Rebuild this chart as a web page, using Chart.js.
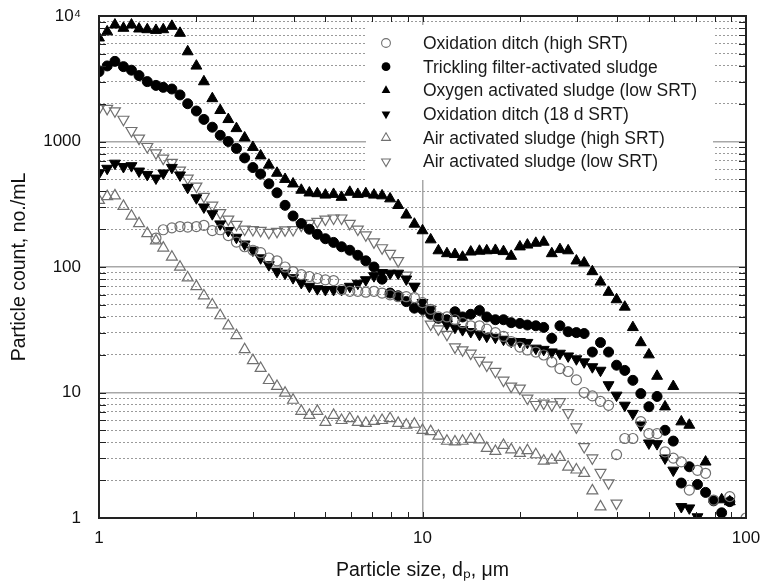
<!DOCTYPE html>
<html>
<head>
<meta charset="utf-8">
<script src="https://cdn.jsdelivr.net/npm/chart.js@4.4.0/dist/chart.umd.min.js"></script>
<style>
  body { margin: 0; background: #fff; }
</style>
</head>
<body>
<canvas id="mycanvas" width="762" height="587"></canvas>
<script>
// particle size bins (um)
var sizes = [1.00, 1.06, 1.12, 1.19, 1.26, 1.33, 1.41, 1.50, 1.58, 1.68,
  1.78, 1.88, 2.00, 2.11, 2.24, 2.37, 2.51, 2.66, 2.82, 2.99,
  3.16, 3.35, 3.55, 3.76, 3.98, 4.22, 4.47, 4.73, 5.01, 5.31,
  5.62, 5.96, 6.31, 6.68, 7.08, 7.50, 7.94, 8.41, 8.91, 9.44,
  10.0, 10.6, 11.2, 11.9, 12.6, 13.3, 14.1, 15.0, 15.8, 16.8,
  17.8, 18.8, 20.0, 21.1, 22.4, 23.7, 25.1, 26.6, 28.2, 29.9,
  31.6, 33.5, 35.5, 37.6, 39.8, 42.2, 44.7, 47.3, 50.1, 53.1,
  56.2, 59.6, 63.1, 66.8, 70.8, 75.0, 79.4, 84.1, 89.1, 94.4,
  100];

var seriesNames = [
  'Oxidation ditch (high SRT)',
  'Trickling filter-activated sludge',
  'Oxygen activated sludge (low SRT)',
  'Oxidation ditch (18 d SRT)',
  'Air activated sludge (high SRT)',
  'Air activated sludge (low SRT)'
];

// particle count, no./mL (null = no point)
var oxDitchHigh = [null, null, null, null, null, null, null, 170, 198, 205,
  210, 208, 210, 215, 195, 198, 178, 158, 145, 136,
  130, 118, 112, 100, 92, 87, 84, 81, 79, 78,
  66, 64, 64, 63, 64, 62, 60, 58, 58, 57,
  52, 46, 40, 40, 38, 36, 34, 34, 32, 30,
  28, 25.5, 23, 21.8, 21, 19.9, 17.5, 15.5, 14.7, 12.6,
  10, 9.4, 8.5, 7.9, 3.2, 4.3, 4.3, 5.85, 4.7, 4.7,
  3.37, 3.0, 2.8, 1.67, 2.4, 2.27, 1.39, null, 1.48, null,
  1.0];

var tricklingAS = [3600, 4000, 4350, 3950, 3700, 3350, 3000, 2800, 2700, 2620,
  2350, 2000, 1750, 1500, 1300, 1120, 1000, 880, 740, 620,
  550, 460, 390, 310, 255, 222, 200, 182, 168, 157,
  145, 136, 124, 112, 100, 80, 62, 59, 53, 47,
  46, 42, 39, 38, 44, 40, 42, 45, 40, 38,
  38, 36, 35.5, 34.5, 34, 33, 27, 34, 30.5, 30,
  29.5, 21, 25, 21, 16.5, 15, 12.5, 9.8, 7.7, 9.3,
  5.0, 4.1, 1.9, 2.56, 1.85, 1.6, 1.37, 1.1, 1.35, null,
  null];

var oxygenLow = [6700, 7500, 8500, 8000, 8500, 7900, 7800, 7700, 7800, 8300,
  7300, 5200, 4000, 3000, 2200, 1770, 1500, 1270, 1070, 900,
  770, 650, 560, 500, 460, 410, 390, 385, 375, 380,
  360, 395, 380, 385, 375, 370, 350, 310, 260, 220,
  195, 165, 135, 128, 126, 120, 132, 134, 135, 136,
  133, 122, 145, 150, 155, 158, 128, 138, 135, 112,
  108, 92, 76, 63, 55, 48, 33, 25, 20, 13.5,
  7.7, 11.2, 5.85, 5.5, null, 2.8, null, 1.4, 1.35, null,
  null];

var oxDitch18 = [560, 610, 670, 630, 640, 580, 545, 510, 560, 620,
  540, 430, 355, 300, 265, 220, 195, 172, 152, 136,
  118, 104, 92, 89, 82, 75, 70, 67, 66, 66,
  66, 70, 74, 79, 85, 90, 89, 89, 80, 70,
  52, 46, 40, 35, 33, 31.6, 30.5, 29, 28, 27.5,
  26.5, 25.5, 25.4, 25, 22.5, 22, 21, 20.5, 19.5, 18.5,
  17.5, 16, 15, 11.5, 9.5, 7.9, 6.8, 5.5, 3.95, 3.9,
  3.0, 2.4, 1.23, 1.2, 1.02, null, null, null, null, null,
  null];

var airHigh = [340, 365, 370, 305, 255, 222, 185, 162, 142, 120,
  100, 82, 70, 59, 50, 41, 34, 28.5, 22, 18,
  15.6, 12.5, 11.2, 9.9, 8.7, 7.1, 6.6, 7.1, 5.8, 6.6,
  6.0, 6.2, 5.8, 5.7, 5.9, 6.0, 6.2, 5.7, 5.5, 5.6,
  5.0, 4.9, 4.5, 4.1, 4.05, 4.1, 4.25, 4.2, 3.6, 3.4,
  3.8, 3.5, 3.28, 3.45, 3.2, 2.85, 2.9, 3.05, 2.55, 2.42,
  2.27, 1.65, 1.23, null, null, null, null, null, null, null,
  null, null, null, null, null, null, null, null, null, null,
  null];

var airLow = [1830, 1830, 1750, 1500, 1220, 1060, 910, 810, 735, 680,
  590, 510, 440, 365, 310, 270, 240, 218, 200, 198,
  195, 188, 192, 197, 198, 215, 222, 230, 240, 245,
  245, 222, 200, 180, 158, 142, 128, 112, 86, 70,
  45, 35, 32, 29, 23, 21.8, 20.5, 18, 16.5, 14.7,
  12.5, 11.2, 10.8, 9.0, 8.0, 8.2, 7.95, 8.45, 6.9, 5.3,
  3.7, 3.0, 2.3, 1.9, 1.31, null, null, null, null, null,
  null, null, null, null, null, null, null, null, null, null,
  null];

var xTicks = [1, 2, 3, 4, 5, 6, 7, 8, 9, 10, 20, 30, 40, 50, 60, 70, 80, 90, 100];
var xTickLabels = {1: '1', 10: '10', 100: '100'};
var yTicks = [1, 2, 3, 4, 5, 6, 7, 8, 9, 10, 20, 30, 40, 50, 60, 70, 80, 90,
  100, 200, 300, 400, 500, 600, 700, 800, 900,
  1000, 2000, 3000, 4000, 5000, 6000, 7000, 8000, 9000, 10000];
var yTickLabels = {1: '1', 10: '10', 100: '100', 1000: '1000', 10000: '10\u2074'};

var FONT = "'Liberation Sans', Arial, sans-serif";
var GREY = '#707070';

// marker look for each series: [pointStyle, rotation, filled]
var markers = [
  ['circle', 0, false],
  ['circle', 0, true],
  ['triangle', 0, true],
  ['triangle', 180, true],
  ['triangle', 0, false],
  ['triangle', 180, false]
];
var allSeries = [oxDitchHigh, tricklingAS, oxygenLow, oxDitch18, airHigh, airLow];

function points(vals) {
  var out = [];
  for (var i = 0; i < sizes.length; i++) {
    if (vals[i] != null) out.push({x: sizes[i], y: vals[i]});
  }
  return out;
}

var datasets = [];
for (var s = 0; s < allSeries.length; s++) {
  var m = markers[s];
  datasets.push({
    label: seriesNames[s],
    data: points(allSeries[s]),
    showLine: false,
    pointStyle: m[0],
    rotation: m[1],
    pointRadius: m[0] === 'circle' ? 5 : 6.3,
    pointHoverRadius: m[0] === 'circle' ? 5 : 6.3,
    backgroundColor: m[2] ? '#000' : 'rgba(255,255,255,0)',
    borderColor: m[2] ? '#000' : GREY,
    borderWidth: m[2] ? 1 : 1.2
  });
}

function drawMarker(ctx, m, x, y, r) {
  ctx.save();
  ctx.beginPath();
  if (m[0] === 'circle') {
    ctx.arc(x, y, r, 0, Math.PI * 2);
  } else {
    var rot = m[1] * Math.PI / 180;
    for (var k = 0; k < 3; k++) {
      var a = rot + k * 2 * Math.PI / 3;
      var px = x + Math.sin(a) * r * 1.15, py = y - Math.cos(a) * r * 1.15;
      if (k === 0) ctx.moveTo(px, py); else ctx.lineTo(px, py);
    }
    ctx.closePath();
  }
  if (m[2]) { ctx.fillStyle = '#000'; ctx.fill(); }
  else { ctx.strokeStyle = GREY; ctx.lineWidth = 1.1; ctx.stroke(); }
  ctx.restore();
}

var framePlugin = {
  id: 'frame',
  afterDatasetsDraw: function(chart) {
    var ctx = chart.ctx;
    // legend box
    ctx.save();
    ctx.fillStyle = '#fff';
    ctx.fillRect(366, 25, 347, 155);
    ctx.font = '17.5px ' + FONT;
    ctx.fillStyle = '#1a1a1a';
    ctx.textBaseline = 'middle';
    for (var i = 0; i < seriesNames.length; i++) {
      var y = 43 + i * 23.7;
      drawMarker(ctx, markers[i], 386, y, 4.4);
      ctx.fillText(seriesNames[i], 423, y + 1);
    }
    ctx.restore();
  },
  afterDraw: function(chart) {
    var ctx = chart.ctx, a = chart.chartArea;
    var xs = chart.scales.x, ys = chart.scales.y;
    ctx.save();
    ctx.strokeStyle = '#222';
    ctx.lineWidth = 1;
    ctx.beginPath();
    xTicks.forEach(function(v) {
      var px = Math.round(xs.getPixelForValue(v)) + 0.5;
      ctx.moveTo(px, a.bottom); ctx.lineTo(px, a.bottom - 6);
      ctx.moveTo(px, a.top); ctx.lineTo(px, a.top + 6);
    });
    yTicks.forEach(function(v) {
      var py = Math.round(ys.getPixelForValue(v)) + 0.5;
      ctx.moveTo(a.left, py); ctx.lineTo(a.left + 7, py);
      ctx.moveTo(a.right, py); ctx.lineTo(a.right - 7, py);
    });
    ctx.stroke();
    ctx.lineWidth = 2;
    ctx.strokeRect(a.left, a.top, a.right - a.left, a.bottom - a.top);
    ctx.restore();
  }
};

function isMajor(v) {
  return yTickLabels[v] !== undefined;
}

var ctx = document.getElementById('mycanvas');
var chart = new Chart(ctx, {
  type: 'scatter',
  data: { datasets: datasets },
  options: {
    responsive: false,
    animation: false,
    devicePixelRatio: 1,
    layout: { padding: { left: 0, right: 16, top: 16, bottom: 0 } },
    plugins: {
      legend: { display: false },
      tooltip: { enabled: false }
    },
    scales: {
      x: {
        type: 'logarithmic',
        min: 1,
        max: 100,
        afterBuildTicks: function(scale) {
          scale.ticks = xTicks.map(function(v) { return {value: v}; });
        },
        afterFit: function(scale) {
          scale.height = 69;
          scale.paddingLeft = 0;
          scale.paddingRight = 0;
        },
        border: { display: false },
        grid: {
          drawTicks: false,
          lineWidth: 1.5,
          color: function(c) {
            return c.tick && c.tick.value === 10 ? '#a8a8a8' : 'rgba(0,0,0,0)';
          }
        },
        ticks: {
          autoSkip: false,
          maxRotation: 0,
          padding: 10,
          color: '#111',
          font: { family: FONT, size: 17 },
          callback: function(v) { return xTickLabels[v] || ''; }
        },
        title: {
          display: true,
          text: 'Particle size, d\u209A, \u03BCm',
          color: '#111',
          font: { family: FONT, size: 19.5 },
          padding: { top: 0, bottom: 5 }
        }
      },
      y: {
        type: 'logarithmic',
        min: 1,
        max: 10000,
        afterBuildTicks: function(scale) {
          scale.ticks = yTicks.map(function(v) { return {value: v}; });
        },
        afterFit: function(scale) {
          scale.width = 99;
          scale.paddingTop = 0;
          scale.paddingBottom = 0;
        },
        border: {
          display: false,
          dash: function(c) {
            return c.tick && !isMajor(c.tick.value) ? [2, 2] : [];
          }
        },
        grid: {
          drawTicks: false,
          lineWidth: function(c) { return c.tick && isMajor(c.tick.value) ? 1.5 : 1; },
          color: function(c) { return c.tick && isMajor(c.tick.value) ? '#a8a8a8' : '#9a9a9a'; }
        },
        ticks: {
          autoSkip: false,
          padding: 18,
          color: '#111',
          font: { family: FONT, size: 17 },
          callback: function(v) { return yTickLabels[v] || ''; }
        },
        title: {
          display: true,
          text: 'Particle count, no./mL',
          color: '#111',
          font: { family: FONT, size: 19.5 },
          padding: { top: 8, bottom: 0 }
        }
      }
    }
  },
  plugins: [framePlugin]
});
</script>
</body>
</html>
